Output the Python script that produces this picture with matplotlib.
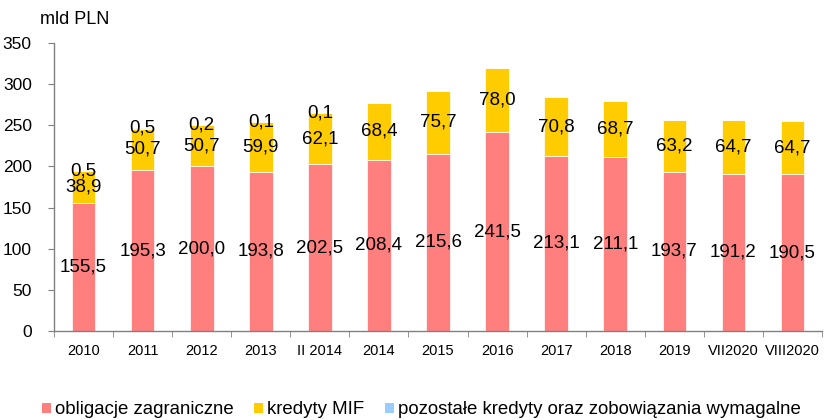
import matplotlib
matplotlib.use("Agg")
import matplotlib.pyplot as plt
import numpy as np

categories = ["2010", "2011", "2012", "2013", "II 2014", "2014", "2015", "2016",
              "2017", "2018", "2019", "VII2020", "VIII2020"]
obligacje = [155.5, 195.3, 200.0, 193.8, 202.5, 208.4, 215.6, 241.5,
             213.1, 211.1, 193.7, 191.2, 190.5]
kredyty_mif = [38.9, 50.7, 50.7, 59.9, 62.1, 68.4, 75.7, 78.0,
               70.8, 68.7, 63.2, 64.7, 64.7]
pozostale = [0.5, 0.5, 0.2, 0.1, 0.1, 0.0, 0.0, 0.0, 0.0, 0.0, 0.0, 0.0, 0.0]
y_ticks = [0, 50, 100, 150, 200, 250, 300, 350]

series_names = ["obligacje zagraniczne", "kredyty MIF",
                "pozostałe kredyty oraz zobowiązania wymagalne"]
colors = ["#FF7F7F", "#FFCC00", "#99CCFF"]

plt.rcParams["font.family"] = ["Liberation Sans", "DejaVu Sans"]

fig = plt.figure(figsize=(8.28, 4.2), dpi=100)
ax = fig.add_axes([0.0652, 0.2119, 0.9276, 0.6857])

x = np.arange(len(categories))
width = 0.4
fmt = lambda v: f"{v:.1f}".replace(".", ",")

bottom = np.zeros(len(categories))
for vals, name, col in zip([obligacje, kredyty_mif, pozostale], series_names, colors):
    vals = np.array(vals)
    ax.bar(x, vals, width, bottom=bottom, color=col, edgecolor="white",
           linewidth=0.5, label=name)
    for xi, b, v in zip(x, bottom, vals):
        if v > 0:
            ax.text(xi, b + v / 2, fmt(v), ha="center", va="center",
                    fontsize=13.5, color="black")
    bottom = bottom + vals

ax.set_xlim(-0.5, len(categories) - 0.5)
ax.set_ylim(0, 350)
ax.set_yticks(y_ticks)
ax.set_yticklabels([str(t) for t in y_ticks], fontsize=12.5)
ax.set_xticks(x)
ax.set_xticklabels(categories, fontsize=10.5)
ax.set_xticks(np.arange(-0.5, len(categories)), minor=True)
ax.tick_params(axis="x", which="major", length=0, pad=9)
ax.tick_params(axis="x", which="minor", length=4, color="#808080", direction="out")
ax.tick_params(axis="y", length=4, color="#808080", pad=12)

for s in ["top", "right"]:
    ax.spines[s].set_visible(False)
for s in ["left", "bottom"]:
    ax.spines[s].set_color("#808080")
    ax.spines[s].set_linewidth(1.0)

fig.text(40 / 828, 1 - 19 / 420, "mld PLN", fontsize=13, va="center", ha="left")

leg = fig.legend(loc="center", bbox_to_anchor=(421 / 828, 1 - 410 / 420), ncol=3,
                 frameon=False, fontsize=13.4, handlelength=0.5, handleheight=0.5,
                 handletextpad=0.2, columnspacing=1.1, borderaxespad=0)
for h in leg.legend_handles:
    h.set_linewidth(0)

fig.savefig("out.png", dpi=100)
